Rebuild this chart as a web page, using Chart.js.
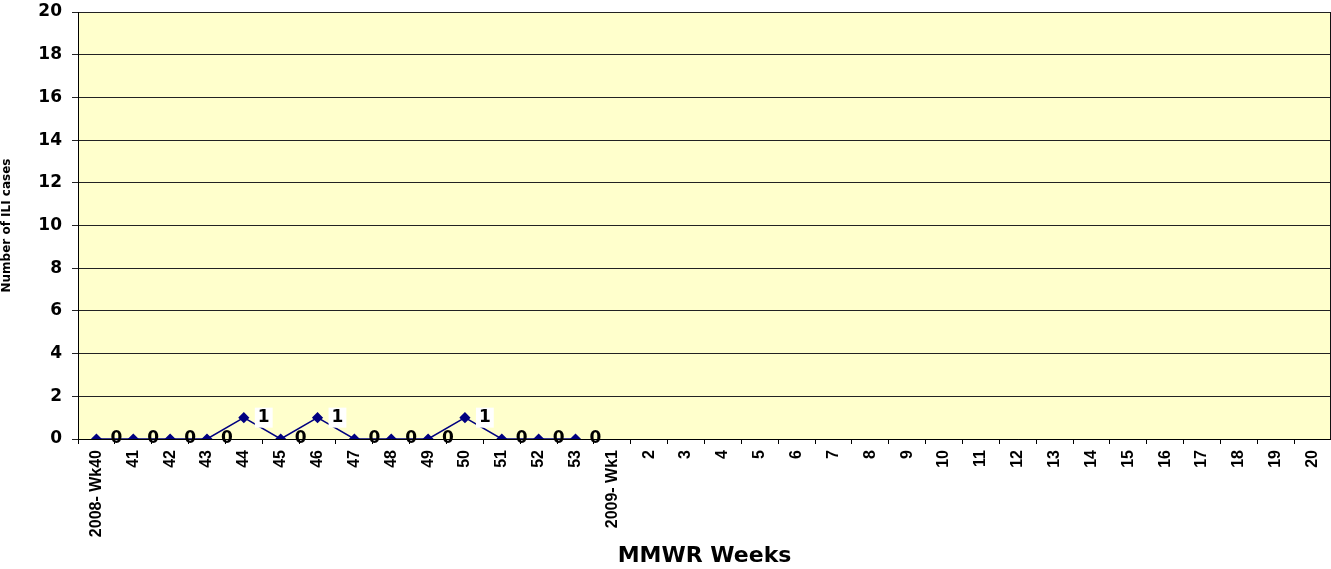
<!DOCTYPE html>
<html>
<head>
<meta charset="utf-8">
<script src="https://cdn.jsdelivr.net/npm/chart.js@4.4.0/dist/chart.umd.min.js"></script>
<style>
  html, body { margin: 0; padding: 0; background: #fff; }
  #wrap { width: 1331px; height: 569px; position: relative; }
</style>
</head>
<body>
<div id="wrap"><canvas id="chart"></canvas></div>
<script>
"use strict";

// ---------- Data ----------
const weeks = [
  "2008- Wk40", "41", "42", "43", "44", "45", "46", "47", "48", "49", "50", "51", "52", "53",
  "2009- Wk1", "2", "3", "4", "5", "6", "7", "8", "9", "10", "11", "12", "13", "14", "15",
  "16", "17", "18", "19", "20",
];
// reported ILI cases, weeks without a report are null
const iliCases = [0, 0, 0, 0, 1, 0, 1, 0, 0, 0, 1, 0, 0, 0];
const yTicks = [0, 2, 4, 6, 8, 10, 12, 14, 16, 18, 20];

const seriesData = weeks.map((_, i) => (i < iliCases.length ? iliCases[i] : null));

const SANS = "'Liberation Sans', Arial, sans-serif";
const WIDE = "'DejaVu Sans', 'Liberation Sans', sans-serif";

// ---------- Plugins ----------
const plotBg = {
  id: "plotBg",
  beforeDraw(chart) {
    const { ctx, chartArea: a } = chart;
    ctx.save();
    ctx.fillStyle = "#FFFFCC";
    ctx.fillRect(a.left, a.top, a.right - a.left, a.bottom - a.top);
    ctx.restore();
  },
  afterDraw(chart) {
    const { ctx, chartArea: a } = chart;
    ctx.save();
    ctx.strokeStyle = "#111";
    ctx.lineWidth = 1;
    ctx.beginPath();
    ctx.moveTo(a.right - 0.5, a.top);
    ctx.lineTo(a.right - 0.5, a.bottom);
    ctx.stroke();
    ctx.restore();
  },
};

// value labels right of each reported point
const pointLabels = {
  id: "pointLabels",
  afterDatasetsDraw(chart) {
    const { ctx } = chart;
    const meta = chart.getDatasetMeta(0);
    ctx.save();
    ctx.font = "bold 17px " + WIDE;
    ctx.textBaseline = "middle";
    ctx.textAlign = "left";
    meta.data.forEach((pt, i) => {
      const v = seriesData[i];
      if (v === null || v === undefined) return;
      const txt = String(v);
      const w = ctx.measureText(txt).width;
      const x = pt.x + 14;
      const y = pt.y;
      if (v > 0) {
        ctx.fillStyle = "#ffffff";
        ctx.fillRect(x - 3, y - 10, w + 6, 20);
      }
      ctx.fillStyle = "#000000";
      ctx.fillText(txt, x, y);
    });
    ctx.restore();
  },
};

// ---------- Chart ----------
Chart.defaults.font.family = SANS;
Chart.defaults.color = "#000";

new Chart(document.getElementById("chart"), {
  type: "line",
  data: {
    labels: weeks,
    datasets: [{
      data: seriesData,
      borderColor: "#000080",
      backgroundColor: "#000080",
      borderWidth: 1.5,
      pointStyle: "rectRot",
      pointRadius: 4.5,
      pointHoverRadius: 4.5,
      tension: 0,
      spanGaps: false,
    }],
  },
  options: {
    responsive: true,
    maintainAspectRatio: false,
    animation: false,
    layout: { autoPadding: false, padding: { top: 12, right: 0, left: 0, bottom: 0 } },
    plugins: { legend: { display: false }, tooltip: { enabled: false } },
    scales: {
      x: {
        offset: true,
        afterFit: (s) => { s.height = 130; s.paddingLeft = 0; s.paddingRight = 0; },
        grid: { offset: true, drawOnChartArea: false, drawTicks: true, tickLength: 5, color: "#000" },
        border: { color: "#000", width: 1 },
        ticks: {
          autoSkip: false, minRotation: 90, maxRotation: 90, padding: 6,
          font: { size: 16, weight: "bold" },
        },
        title: {
          display: true, text: "MMWR Weeks",
          font: { size: 22, weight: "bold", family: WIDE },
          padding: { top: 0, bottom: 0 },
        },
      },
      y: {
        min: 0, max: 20,
        afterFit: (s) => { s.width = 78; s.paddingTop = 0; s.paddingBottom = 0; },
        afterBuildTicks: (s) => { s.ticks = yTicks.map((v) => ({ value: v })); },
        grid: { color: "#222", tickLength: 6, drawTicks: true },
        border: { color: "#000", width: 1 },
        ticks: {
          padding: 10,
          font: { size: 17, weight: "bold", family: WIDE },
        },
        title: {
          display: true, text: "Number of ILI cases",
          font: { size: 12, weight: "bold", family: WIDE },
          padding: { top: 0, bottom: 2 },
        },
      },
    },
  },
  plugins: [plotBg, pointLabels],
});
</script>
</body>
</html>
